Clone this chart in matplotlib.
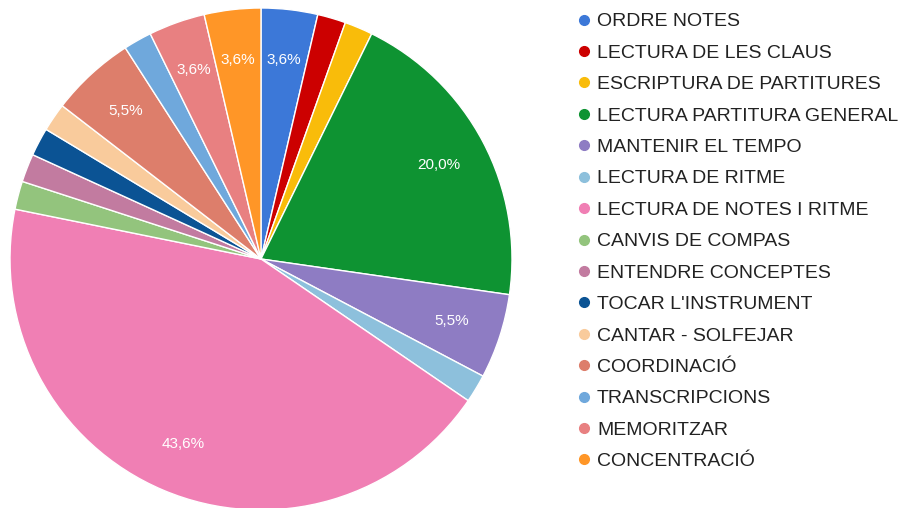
import matplotlib.pyplot as plt
from matplotlib.lines import Line2D

plt.rcParams['font.family'] = ['Liberation Sans', 'DejaVu Sans']

labels = ['ORDRE NOTES', 'LECTURA DE LES CLAUS', 'ESCRIPTURA DE PARTITURES',
          'LECTURA PARTITURA GENERAL', 'MANTENIR EL TEMPO', 'LECTURA DE RITME',
          'LECTURA DE NOTES I RITME', 'CANVIS DE COMPAS', 'ENTENDRE CONCEPTES',
          "TOCAR L'INSTRUMENT", 'CANTAR - SOLFEJAR', 'COORDINACIÓ',
          'TRANSCRIPCIONS', 'MEMORITZAR', 'CONCENTRACIÓ']
counts = [2, 1, 1, 11, 3, 1, 24, 1, 1, 1, 1, 3, 1, 2, 2]
colors = ['#3c78d8', '#cc0000', '#f9bc0a', '#0e9332', '#8e7cc3', '#8dc0dc',
          '#f07fb4', '#93c47d', '#c27ba0', '#0b5394', '#f9cb9c', '#dd7e6b',
          '#6fa8dc', '#e88081', '#ff9627']

W, H = 901, 508
fig = plt.figure(figsize=(W / 100, H / 100), dpi=100)
cx, cy, r = 261, 259, 251
ax = fig.add_axes([(cx - r) / W, (H - cy - r) / H, 2 * r / W, 2 * r / H])


def fmt(p):
    if p < 3:
        return ''
    return f'{p:.1f}%'.replace('.', ',')


wedges, texts, autotexts = ax.pie(
    counts, colors=colors, startangle=90, counterclock=False,
    autopct=fmt, pctdistance=0.8, radius=1,
    wedgeprops=dict(edgecolor='white', linewidth=1),
    textprops=dict(color='white', fontsize=11))
ax.set_xlim(-1, 1)
ax.set_ylim(-1, 1)
ax.set_aspect('equal')
ax.axis('off')

handles = [Line2D([], [], marker='o', linestyle='', markersize=7,
                  markerfacecolor=c, markeredgecolor=c) for c in colors]
fig.legend(handles, labels, loc='upper left', bbox_to_anchor=(566 / W, 1 - 5 / H),
           frameon=False, fontsize=14, labelspacing=0.71, handletextpad=0.2,
           handlelength=1.0, labelcolor='#222222', borderaxespad=0)

fig.savefig('out.png', dpi=100)
